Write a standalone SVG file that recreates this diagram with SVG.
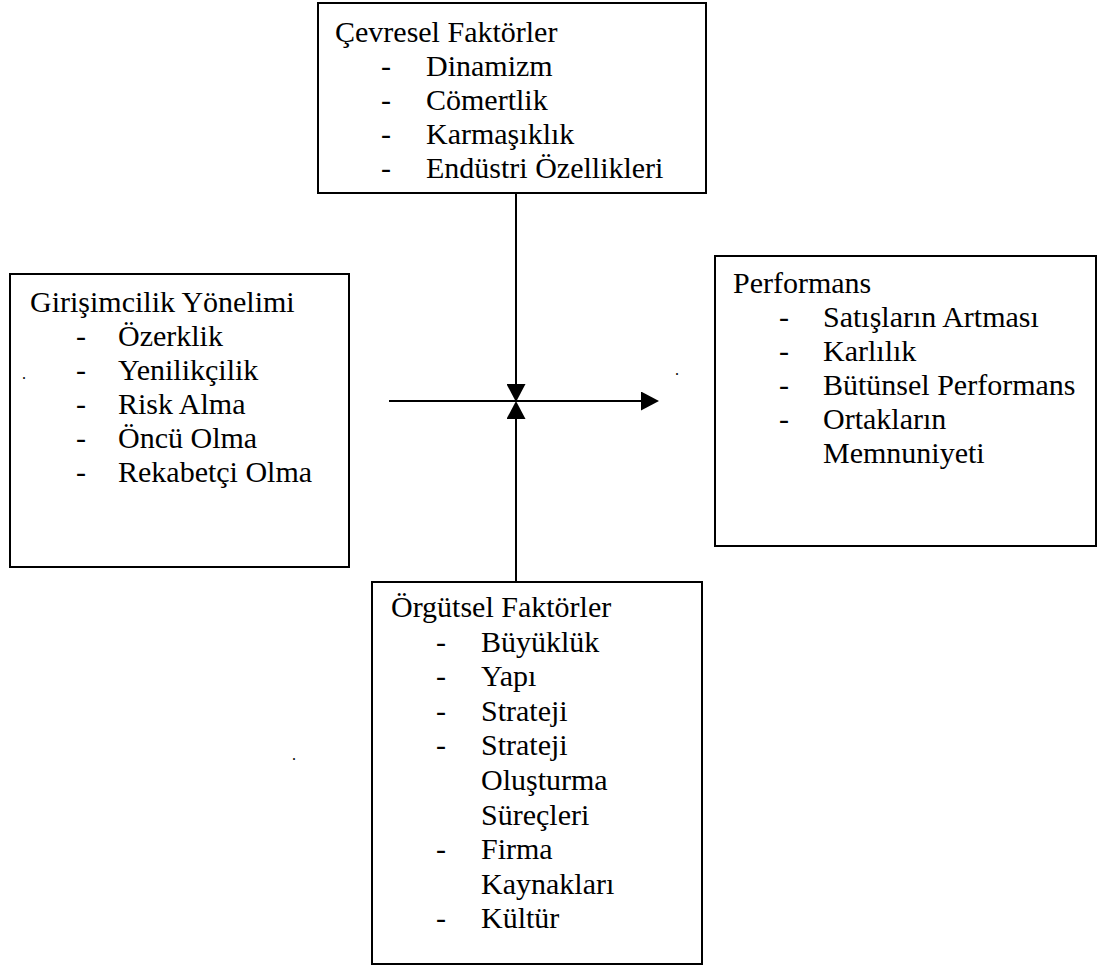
<svg xmlns="http://www.w3.org/2000/svg" width="1100" height="967" viewBox="0 0 1100 967" font-family="Liberation Serif, Times New Roman, Tinos, serif">
<style>
.box{fill:#fff;stroke:#000;stroke-width:2}
.t{font-size:30px;fill:#000}
.c{stroke:#000;stroke-width:2;fill:none}
</style>
<defs>
<marker id="ah" markerUnits="userSpaceOnUse" markerWidth="18" markerHeight="19" refX="9" refY="9.5" orient="auto" viewBox="0 0 18 19">
<path d="M0,0 L18,9.5 L0,19 z" fill="#000"/>
</marker>
</defs>
<rect width="1100" height="967" fill="#fff"/>
<g id="cevresel" font-family="Liberation Serif, serif">
<rect class="box" x="318" y="3" width="388" height="190"/>
<text class="t" x="335" y="42">Çevresel Faktörler</text>
<text class="t" x="381" y="76">-</text><text class="t" x="426" y="76">Dinamizm</text>
<text class="t" x="381" y="110">-</text><text class="t" x="426" y="110">Cömertlik</text>
<text class="t" x="381" y="144">-</text><text class="t" x="426" y="144">Karmaşıklık</text>
<text class="t" x="381" y="178">-</text><text class="t" x="426" y="178">Endüstri Özellikleri</text>
</g>
<g id="girisimcilik" font-family="Liberation Serif, serif">
<rect class="box" x="10" y="274" width="339" height="293"/>
<text class="t" x="30" y="312">Girişimcilik Yönelimi</text>
<text class="t" x="76" y="346">-</text><text class="t" x="118" y="346">Özerklik</text>
<text class="t" x="76" y="380">-</text><text class="t" x="118" y="380">Yenilikçilik</text>
<text class="t" x="76" y="414">-</text><text class="t" x="118" y="414">Risk Alma</text>
<text class="t" x="76" y="448">-</text><text class="t" x="118" y="448">Öncü Olma</text>
<text class="t" x="76" y="482">-</text><text class="t" x="118" y="482">Rekabetçi Olma</text>
</g>
<g id="performans" font-family="Liberation Serif, serif">
<rect class="box" x="715" y="256" width="381" height="290"/>
<text class="t" x="733" y="293">Performans</text>
<text class="t" x="779" y="327">-</text><text class="t" x="823" y="327">Satışların Artması</text>
<text class="t" x="779" y="361">-</text><text class="t" x="823" y="361">Karlılık</text>
<text class="t" x="779" y="395">-</text><text class="t" x="823" y="395">Bütünsel Performans</text>
<text class="t" x="779" y="429">-</text><text class="t" x="823" y="429">Ortakların</text>
<text class="t" x="823" y="463">Memnuniyeti</text>
</g>
<g id="orgutsel" font-family="Liberation Serif, serif">
<rect class="box" x="372" y="582" width="330" height="382"/>
<text class="t" x="391" y="617">Örgütsel Faktörler</text>
<text class="t" x="436" y="651.6">-</text><text class="t" x="481" y="651.6">Büyüklük</text>
<text class="t" x="436" y="686.2">-</text><text class="t" x="481" y="686.2">Yapı</text>
<text class="t" x="436" y="720.8">-</text><text class="t" x="481" y="720.8">Strateji</text>
<text class="t" x="436" y="755.4">-</text><text class="t" x="481" y="755.4">Strateji</text>
<text class="t" x="481" y="790">Oluşturma</text>
<text class="t" x="481" y="824.6">Süreçleri</text>
<text class="t" x="436" y="859.2">-</text><text class="t" x="481" y="859.2">Firma</text>
<text class="t" x="481" y="893.8">Kaynakları</text>
<text class="t" x="436" y="928.4">-</text><text class="t" x="481" y="928.4">Kültür</text>
</g>
<g id="connectors">
<line class="c" x1="389" y1="401" x2="650" y2="401" marker-end="url(#ah)"/>
<line class="c" x1="516" y1="193" x2="516" y2="393" marker-end="url(#ah)"/>
<line class="c" x1="516" y1="582" x2="516" y2="410" marker-end="url(#ah)"/>
</g>
<g id="stray-dots" font-family="Liberation Serif, serif">
<text x="22" y="379" font-size="16">.</text>
<text x="675" y="375" font-size="16">.</text>
<text x="292" y="760" font-size="16">.</text>
</g>
</svg>
